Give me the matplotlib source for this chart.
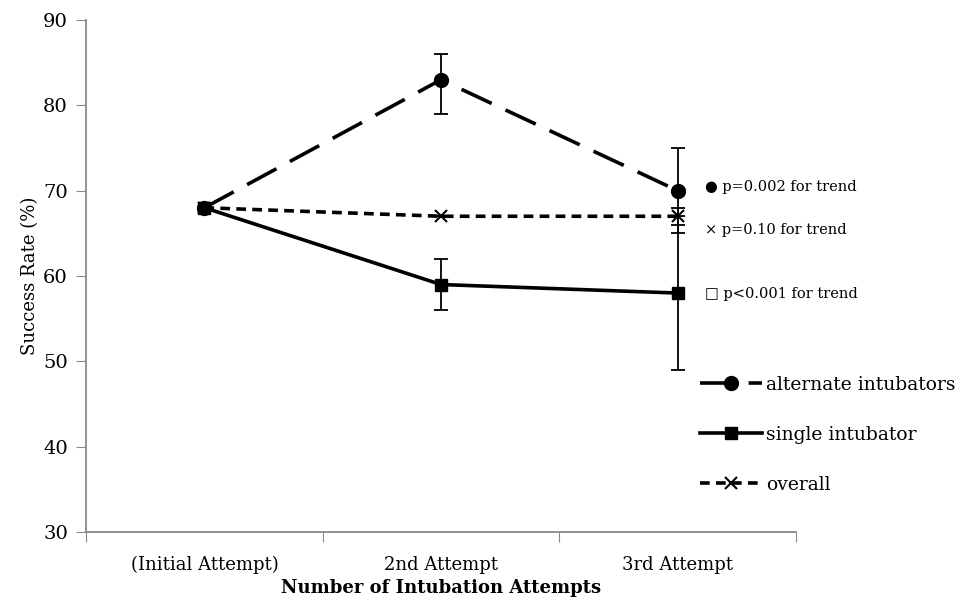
import matplotlib.pyplot as plt
from matplotlib.lines import Line2D

plt.rcParams["font.family"] = ["DejaVu Serif"]
plt.rcParams["lines.scale_dashes"] = False

categories = ["(Initial Attempt)", "2nd Attempt", "3rd Attempt"]
alternate = [68, 83, 70]
alternate_err_lo = [0, 4, 5]
alternate_err_hi = [0, 3, 5]
single = [68, 59, 58]
single_err_lo = [0, 3, 9]
single_err_hi = [0, 3, 9]
overall = [68, 67, 67]
overall_err_lo = [0, 0, 1]
overall_err_hi = [0, 0, 1]
p_notes = ["\u25cf p=0.002 for trend", "\u00d7 p=0.10 for trend", "\u25a1 p<0.001 for trend"]
p_y = [70.4, 65.4, 57.9]

xpos = [i + 0.5 for i in range(len(categories))]

fig = plt.figure(figsize=(9.69, 6.04), dpi=100)
ax = fig.add_axes([0.0888, 0.1192, 0.7327, 0.8477])

ax.errorbar(xpos, alternate, yerr=[alternate_err_lo, alternate_err_hi], fmt="none",
            ecolor="black", elinewidth=1.3, capsize=5, capthick=1.3, zorder=2)
ax.errorbar(xpos, single, yerr=[single_err_lo, single_err_hi], fmt="none",
            ecolor="black", elinewidth=1.3, capsize=5, capthick=1.3, zorder=2)
ax.errorbar(xpos, overall, yerr=[overall_err_lo, overall_err_hi], fmt="none",
            ecolor="black", elinewidth=1.3, capsize=5, capthick=1.3, zorder=2)

ax.plot(xpos, alternate, color="black", lw=2.6, dashes=(24, 11), marker="o", ms=10, zorder=3)
ax.plot(xpos, overall, color="black", lw=2.6, dashes=(7, 4.5), marker="x", ms=8, mew=1.5, zorder=3)
ax.plot(xpos, single, color="black", lw=2.6, marker="s", ms=9, zorder=4)

ax.set_xlim(0, 3)
ax.set_ylim(30, 90)
ax.set_yticks(range(30, 91, 10))
ax.set_xticks([0, 1, 2, 3])
ax.set_xticklabels([])
ax.set_xticks(xpos, minor=True)
ax.set_xticklabels(categories, minor=True)
ax.tick_params(axis="x", which="minor", length=0, pad=17, labelsize=13)
ax.tick_params(axis="x", which="major", direction="out", length=7, color="#888888")
ax.tick_params(axis="y", direction="out", length=7, color="#888888", labelsize=14, pad=6)

for side in ["top", "right"]:
    ax.spines[side].set_visible(False)
for side in ["left", "bottom"]:
    ax.spines[side].set_color("#888888")
    ax.spines[side].set_linewidth(1.3)

ax.set_xlabel("Number of Intubation Attempts", fontsize=13, fontweight="bold", labelpad=4)
ax.set_ylabel("Success Rate (%)", fontsize=13, labelpad=3)

for note, y in zip(p_notes, p_y):
    ax.annotate(note, xy=(2.5, y), xytext=(20, 0), textcoords="offset points",
                fontsize=10.5, va="center", ha="left", annotation_clip=False)

handles = [
    Line2D([], [], color="black", lw=2.6, dashes=(24, 11), marker="o", ms=10),
    Line2D([], [], color="black", lw=2.6, marker="s", ms=9),
    Line2D([], [], color="black", lw=2.6, dashes=(7, 4.5), marker="x", ms=8, mew=1.5),
]
labels = ["alternate intubators", "single intubator", "overall"]
fig.legend(handles, labels, loc="upper left", bbox_to_anchor=(0.715, 0.39),
           frameon=False, fontsize=13.5, handlelength=3.3, handletextpad=0.2,
           labelspacing=1.7, borderaxespad=0)

fig.savefig("out.png", dpi=100)
